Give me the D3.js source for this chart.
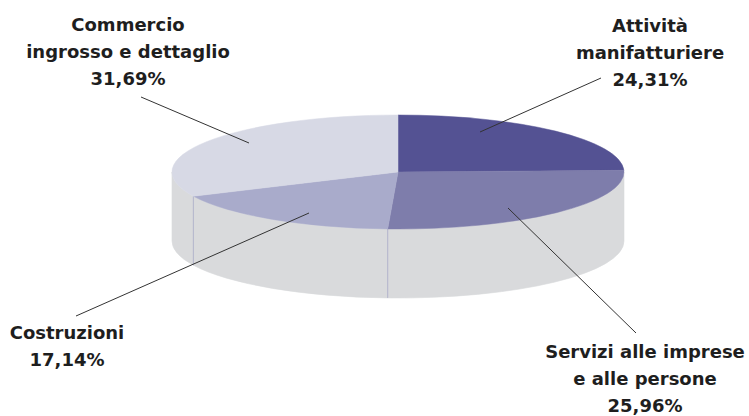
<!DOCTYPE html>
<html><head><meta charset="utf-8">
<script src="https://cdn.jsdelivr.net/npm/d3@7"></script>
<style>html,body{margin:0;padding:0;background:#fff;}svg{display:block;}</style>
</head><body>
<svg id="c" width="749" height="416"></svg>
<script>
const categories = ["Attività manifatturiere", "Servizi alle imprese e alle persone", "Costruzioni", "Commercio ingrosso e dettaglio"];
const values = [24.31, 25.96, 17.14, 31.69];
const valueLabels = ["24,31%", "25,96%", "17,14%", "31,69%"];
const labelLines = [["Attività", "manifatturiere"], ["Servizi alle imprese", "e alle persone"], ["Costruzioni"], ["Commercio", "ingrosso e dettaglio"]];
const colors = ["#545293", "#7e7dab", "#a9abcb", "#d7d9e5"];

// layout
const cx = 398, cy = 172, rx = 226, ry = 57, depth = 69;
const labelPos = [
  {x: 650, y: 32, from: [480, 132], to: [601, 78]},
  {x: 645, y: 358, from: [508, 208], to: [636, 333]},
  {x: 67, y: 339, from: [309, 213], to: [76, 316]},
  {x: 128, y: 31, from: [249, 143], to: [141, 97]}
];

const svg = d3.select("#c");
const pie = d3.pie().sort(null).value(d => d)(values);
const P = (a, dy = 0) => [cx + rx * Math.sin(a), cy - ry * Math.cos(a) + dy];

// sides (visible front half: angle PI/2 .. 3PI/2)
const sideG = svg.append("g");
pie.forEach((s, i) => {
  const a0 = Math.max(s.startAngle, Math.PI / 2), a1 = Math.min(s.endAngle, 3 * Math.PI / 2);
  if (a1 <= a0) return;
  const p0 = P(a0), p1 = P(a1), q1 = P(a1, depth), q0 = P(a0, depth);
  const large = (a1 - a0) > Math.PI ? 1 : 0;
  sideG.append("path")
    .attr("d", `M${p0}A${rx},${ry} 0 ${large} 1 ${p1}L${q1}A${rx},${ry} 0 ${large} 0 ${q0}Z`)
    .attr("fill", "#d9dadc").attr("stroke", "#d9dadc").attr("stroke-width", 0.6);
});
pie.forEach((s, i) => {
  const a = s.startAngle;
  if (a > Math.PI / 2 + 0.02 && a < 3 * Math.PI / 2 - 0.02) {
    sideG.append("line")
      .attr("x1", P(a)[0]).attr("y1", P(a)[1])
      .attr("x2", P(a, depth)[0]).attr("y2", P(a, depth)[1])
      .attr("stroke", "#b3b5cc").attr("stroke-width", 1);
  }
});

// top
const topG = svg.append("g");
pie.forEach((s, i) => {
  const p0 = P(s.startAngle), p1 = P(s.endAngle);
  const large = (s.endAngle - s.startAngle) > Math.PI ? 1 : 0;
  topG.append("path")
    .attr("d", `M${cx},${cy}L${p0}A${rx},${ry} 0 ${large} 1 ${p1}Z`)
    .attr("fill", colors[i]).attr("stroke", colors[i]).attr("stroke-width", 0.5);
});

// leader lines and labels
const lab = svg.append("g");
pie.forEach((s, i) => {
  const L = labelPos[i];
  lab.append("line")
    .attr("x1", L.from[0]).attr("y1", L.from[1]).attr("x2", L.to[0]).attr("y2", L.to[1])
    .attr("stroke", "#333").attr("stroke-width", 1);
  const t = lab.append("text").attr("text-anchor", "middle")
    .attr("font-family", "DejaVu Sans, sans-serif").attr("font-weight", "bold")
    .attr("font-size", 18).attr("fill", "#1e1e1e");
  const lines = labelLines[i].concat([valueLabels[i]]);
  lines.forEach((ln, k) => {
    t.append("tspan").attr("x", L.x).attr("y", L.y + k * 27).text(ln);
  });
});
</script>
</body></html>
